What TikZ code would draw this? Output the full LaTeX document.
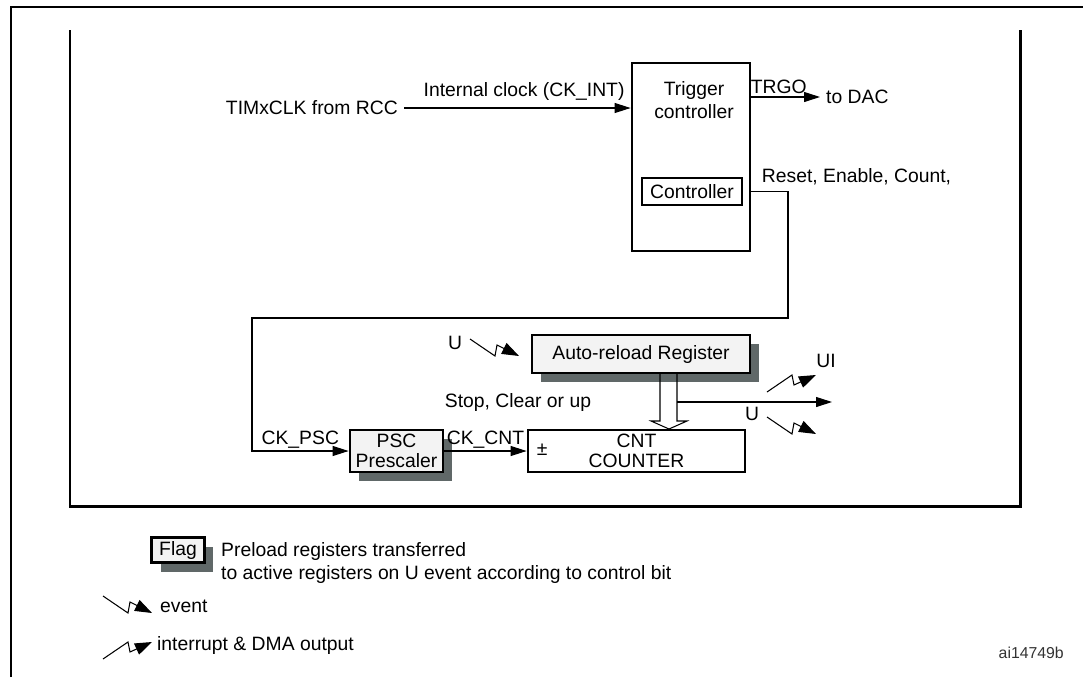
\documentclass[tikz,border=0pt]{standalone}
\usepackage{fontspec}
\setmainfont{Liberation Sans}
\usetikzlibrary{arrows.meta,calc,positioning,shadows}
\definecolor{shadowgray}{RGB}{96,104,104}
\definecolor{boxfill}{RGB}{243,243,243}
\tikzset{blk/.style={draw,line width=1.6pt,inner sep=0pt,align=center,font=\fontsize{11}{11.5}\selectfont},
  regbox/.style={blk,fill=boxfill},
  boxshadow/.style={drop shadow={shadow xshift=0.18cm,shadow yshift=-0.18cm,fill=shadowgray,opacity=1}},
  wire/.style={line width=0.6pt},
  sig/.style={wire,-{Triangle[length=0.32cm,width=0.2cm]}},
  zig/.style={wire,-{Triangle[length=0.34cm,width=0.24cm]}},
  lbl/.style={inner sep=1.5pt}}

\begin{document}
\begin{tikzpicture}[x=0.02cm,y=-0.02cm,line join=miter,font=\fontsize{11}{13}\selectfont]
\useasboundingbox (0,0) rectangle (1083,677);
% --- frames
\draw[line width=1.5pt] (11,677) -- (11,7) -- (1083,7);
\draw[line width=1.7pt] (70,30) -- (70,506) -- (1020,506) -- (1020,30);
% --- trigger controller
\node[blk,minimum width=2.36cm,minimum height=3.76cm] (trig) at (691,157) {};
\node[align=center,font=\fontsize{11}{13.5}\selectfont] (trigtxt) at (694,100) {Trigger\\controller};
\node[blk,minimum width=2cm,minimum height=0.54cm] (ctrl) at (692,191.5) {Controller};
\node[anchor=east] (clk) at (404,108) {TIMxCLK from RCC};
\draw[sig] (clk.east) -- (clk.east -| trig.west) node[lbl,above,pos=0.53,inner sep=4pt] {Internal clock (CK\_INT)};
\node[anchor=west] (dac) at (820,97) {to DAC};
\draw[sig] (dac.west -| trig.east) -- (dac.west) node[lbl,above,pos=0.4] {TRGO};
\node[anchor=west,lbl] (rst) at (759,177) {Reset, Enable, Count,};
% --- counter part
\node[regbox,boxshadow,minimum width=4.36cm,minimum height=0.76cm] (arr) at (641,354) {Auto-reload Register};
\node[blk,minimum width=4.34cm,minimum height=0.84cm] (cnt) at (636.5,451) {CNT\\COUNTER};
\node[anchor=west,lbl] (pm) at (534,450) {±};
\node[regbox,boxshadow,minimum width=1.86cm,minimum height=0.84cm] (psc) at (396.5,451) {PSC\\Prescaler};
\coordinate (loopR) at (788,318);
\coordinate (loopL) at (252,318);
\draw[sig] (trig.east |- ctrl.east) -| (loopR) -- (loopL) |- (psc.west) node[lbl,pos=0.75,above] {CK\_PSC};
\draw[sig] (psc.east) -- (cnt.west |- psc.east) node[lbl,midway,above] {CK\_CNT};
\node (stop) at (518,402) {Stop, Clear or up};
% reload -> counter (hollow double arrow)
\draw[wire] (660,373) -- (660,421) -- (651,421) -- (669,429) -- (687,421) -- (677,421) -- (677,373);
\coordinate (uout) at (832,402);
\draw[sig] (677,402) -- (uout);
% --- event / interrupt marks
\node (uin) at (455,343) {U};
\draw[zig] (470,339) -- ++(25,17) -- ++(2,-11) -- ++(22,11);
\node (ui) at (826,361) {UI};
\draw[zig] (767,392) -- ++(25,-17) -- ++(2,10) -- ++(22,-10);
\node (uev) at (752,414) {U};
\draw[zig] (767,417) -- ++(25,17) -- ++(2,-11) -- ++(22,11);
% --- legend
\node[regbox,boxshadow,line width=1.3pt,minimum width=1.06cm,minimum height=0.5cm] (flag) at (178,550) {Flag};
\node[anchor=north west,align=left] (pre) at (215,536) {Preload registers transferred\\to active registers on U event according to control bit};
\coordinate (evk) at (103,596);
\draw[zig] (evk) -- ++(25,17) -- ++(2,-11) -- ++(22,11);
\node[anchor=west] (evt) at (154,606) {event};
\coordinate (irk) at (103,659);
\draw[zig] (irk) -- ++(25,-17) -- ++(2,10) -- ++(22,-10);
\node[anchor=west] (irq) at (151,645) {interrupt \& DMA output};
\node[anchor=east,font=\fontsize{9}{10}\selectfont,text=black!80] (ref) at (1070,653) {ai14749b};
\end{tikzpicture}
\end{document}
